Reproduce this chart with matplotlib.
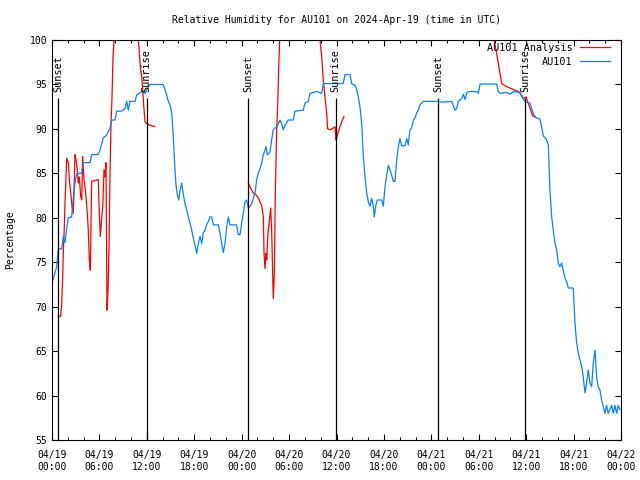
"""
Relative humidity for AU101 (observed vs analysis), with sunrise/sunset marks
"""
import numpy as np
import matplotlib
matplotlib.use("Agg")
import matplotlib.pyplot as plt

# time is hours since 2024-04-19 00:00 UTC
obs_hours = [0.13, 0.59, 0.80, 1.23, 1.43, 1.64, 1.86, 2.06, 2.49, 2.62, 2.91, 3.13, 3.76, 3.96,
             4.81, 5.02, 5.86, 6.07, 6.49, 6.92, 7.34, 7.55, 7.97, 8.19, 8.82, 9.24, 9.45, 9.65,
             9.87, 10.50, 10.72, 11.35, 11.77, 12.19, 12.40, 14.08, 14.30, 14.51, 14.72, 14.93,
             15.15, 15.35, 15.56, 15.69, 15.85, 16.03, 16.20, 16.41, 16.61, 16.83, 17.04, 17.25,
             17.46, 17.68, 17.88, 18.09, 18.31, 18.51, 18.73, 18.94, 19.14, 19.36, 19.57, 19.78,
             19.99, 20.21, 20.41, 21.04, 21.26, 21.47, 21.68, 21.89, 22.11, 22.31, 22.52, 23.37,
             23.57, 23.79, 24.00, 24.21, 24.42, 24.64, 24.84, 25.05, 25.27, 25.47, 25.69, 25.90,
             26.10, 26.53, 26.74, 26.95, 27.08, 27.24, 27.58, 27.80, 27.99, 28.22, 28.43, 28.64,
             28.85, 29.06, 29.27, 29.48, 29.90, 30.53, 30.75, 31.80, 32.01, 32.43, 32.64, 33.49,
             34.13, 34.33, 36.86, 37.07, 37.71, 37.92, 38.34, 38.56, 38.76, 38.97, 39.19, 39.39,
             39.61, 39.82, 40.02, 40.24, 40.45, 40.65, 40.78, 40.96, 41.16, 41.72, 41.92, 42.14,
             42.35, 42.55, 42.77, 42.98, 43.19, 43.40, 43.62, 43.82, 44.03, 44.25, 44.67, 44.88,
             45.08, 45.30, 45.51, 45.72, 45.93, 46.14, 46.35, 46.56, 46.98, 48.88, 49.31, 50.58,
             51.00, 51.21, 51.42, 51.84, 52.05, 52.27, 52.48, 52.68, 53.74, 53.95, 54.16, 56.27,
             56.47, 56.69, 57.53, 57.95, 58.37, 59.22, 59.43, 59.85, 60.07, 60.48, 60.70, 60.90,
             61.12, 61.75, 61.96, 62.17, 62.51, 62.80, 63.01, 63.23, 63.43, 63.65, 63.86, 64.06,
             64.28, 64.49, 64.69, 64.91, 65.13, 65.33, 65.96, 66.18, 66.39, 66.59, 66.81, 67.02,
             67.22, 67.44, 67.65, 67.85, 68.07, 68.29, 68.49, 68.71, 68.92, 69.12, 69.34, 69.55,
             69.75, 69.97, 70.18, 70.38, 70.82, 71.02, 71.23, 71.45, 71.65, 71.87]
obs_rh = [73.0, 74.5, 76.5, 76.5, 77.9, 77.2, 78.8, 80.0, 80.1, 81.6, 83.9, 85.0, 85.0, 86.2,
          86.2, 87.1, 87.1, 87.6, 89.0, 89.3, 90.1, 91.0, 91.0, 92.0, 92.0, 92.3, 93.1, 92.1,
          93.1, 93.1, 93.8, 94.2, 94.0, 94.7, 95.0, 95.0, 94.4, 93.8, 93.1, 92.7,
          91.8, 89.1, 85.4, 83.7, 82.6, 82.0, 83.1, 83.9, 82.6, 81.6, 80.9, 80.1,
          79.4, 78.6, 77.7, 76.9, 76.0, 77.1, 77.9, 77.1, 78.3, 78.6, 79.2, 79.6,
          80.1, 80.1, 79.2, 79.2, 78.3, 77.1, 76.1, 77.1, 79.0, 80.1, 79.2, 79.2,
          78.1, 78.1, 79.4, 80.5, 81.8, 82.0, 81.1, 81.3, 81.6, 82.2, 82.8, 84.3,
          85.0, 86.1, 87.1, 87.6, 88.0, 87.1, 87.4, 88.8, 89.9, 90.1, 90.2, 90.6,
          91.0, 90.6, 89.9, 90.4, 91.0, 91.0, 92.0, 92.1, 92.9, 93.1, 94.0, 94.2,
          94.0, 95.1, 95.1, 96.1, 96.1, 95.1, 94.9, 94.4, 93.6, 92.5, 90.6, 86.9,
          84.6, 82.8, 81.8, 81.3, 82.2, 81.3, 80.1, 81.3, 82.0, 82.0, 81.3, 83.5,
          84.8, 85.9, 85.4, 84.8, 84.1, 84.1, 86.5, 88.0, 88.9, 88.1, 88.1, 88.9,
          88.2, 89.9, 90.1, 91.0, 91.2, 91.8, 92.1, 92.7, 93.1, 93.1, 93.0, 93.1,
          92.1, 92.3, 93.1, 93.4, 93.9, 93.3, 94.0, 94.2, 94.2, 94.0, 95.05, 95.05,
          94.2, 94.0, 94.1, 93.9, 94.2, 94.1, 93.6, 93.1, 93.0, 92.9, 92.3, 91.8,
          91.3, 91.1, 90.2, 89.2, 88.9, 88.2, 83.1, 80.1, 78.6, 77.1, 76.4, 74.9,
          74.5, 74.9, 74.1, 73.2, 72.8, 72.1, 72.1, 68.1, 65.9, 64.8, 64.0, 63.3,
          62.1, 60.3, 61.4, 62.9, 61.4, 61.0, 63.6, 65.1, 62.0, 61.0, 60.6, 59.5,
          58.8, 58.0, 58.9, 58.0, 58.9, 58.0, 58.9, 58.0, 58.9, 58.4]

# analysis runs, NaN separates the three runs
ana_hours = [0.80, 1.10, 1.23, 1.35, 1.43, 1.56, 1.64, 1.77, 1.86, 2.06, 2.19, 2.37, 2.53, 2.70,
             2.78, 2.91, 3.04, 3.20, 3.33, 3.45, 3.63, 3.76, 3.88, 4.05, 4.18, 4.30, 4.47, 4.59,
             4.72, 4.85, 4.93, 5.02, 5.86, 5.99, 6.11, 6.24, 6.42, 6.58, 6.71, 6.83, 6.96, 7.09,
             7.21, 7.34, 7.47, 7.59, 7.72, 7.85, 9.5, 10.3, 10.92, 11.05, 11.22, 11.35, 11.48,
             11.60, 11.77, 11.98, 12.40, 13.03,
             np.nan,
             24.84, 25.05, 25.27, 25.47, 25.81, 26.10, 26.32, 26.53, 26.74, 26.83, 26.95, 27.08,
             27.17, 27.33, 27.50, 27.67, 27.80, 27.93, 28.00, 28.13, 28.26, 28.43, 28.56, 28.69,
             28.81, 31.5, 33.91, 34.13, 34.33, 34.54, 34.76, 34.88, 35.18, 35.59, 35.81, 35.94,
             36.06, 36.23, 36.44, 36.66, 36.95,
             np.nan,
             55.2, 55.93, 56.18, 56.47, 56.69, 56.90, 57.53, 58.37, 59.00, 59.43, 59.63, 59.97,
             60.26, 60.57, 60.82, 61.12]
ana_rh = [68.9, 68.9, 70.4, 73.4, 76.0, 79.0, 81.6, 84.5, 86.7, 86.2, 84.3, 82.8, 81.3, 80.5,
          82.8, 87.1, 86.5, 85.4, 83.9, 84.6, 82.4, 82.0, 86.9, 84.3, 83.5, 82.4, 80.5, 78.6,
          75.3, 74.1, 79.0, 84.1, 84.3, 80.5, 77.9, 79.4, 81.3, 85.4, 84.6, 86.2, 69.6, 71.9,
          76.4, 85.0, 90.6, 93.4, 98.1, 100.0, 106.0, 106.0, 100.0, 98.5, 96.6, 95.9, 94.4,
          92.7, 90.8, 90.6, 90.4, 90.25,
          np.nan,
          83.9, 83.5, 83.1, 82.8, 82.6, 82.2, 81.8, 81.4, 80.1, 76.0, 74.3, 76.0,
          75.25, 78.3, 79.6, 81.1, 78.4, 73.4, 70.9, 73.6, 82.9, 89.9, 92.7, 97.0,
          100.0, 107.0, 100.0, 98.1, 95.5, 93.6, 91.75, 90.0, 89.9, 90.1, 90.25, 88.75,
          89.1, 89.7, 90.25, 90.8, 91.4,
          np.nan,
          101.5, 100.0, 98.9, 97.4, 96.25, 95.1, 94.75, 94.45, 94.2, 93.8, 93.4, 93.6,
          92.9, 92.1, 91.45, 91.4]

sun_hours = [0.80, 11.98, 24.84, 35.90, 48.87, 59.88]
sun_names = ["Sunset", "Sunrise", "Sunset", "Sunrise", "Sunset", "Sunrise"]

tick_hours = list(range(0, 73, 6))
tick_labels = ["04/19\n00:00", "04/19\n06:00", "04/19\n12:00", "04/19\n18:00",
               "04/20\n00:00", "04/20\n06:00", "04/20\n12:00", "04/20\n18:00",
               "04/21\n00:00", "04/21\n06:00", "04/21\n12:00", "04/21\n18:00",
               "04/22\n00:00"]

plt.rcParams["font.family"] = ["DejaVu Sans Mono"]
plt.rcParams["font.size"] = 7

fig = plt.figure(figsize=(6.4, 4.8), dpi=100)
ax = fig.add_axes([52 / 640, 40 / 480, 569 / 640, 400 / 480])

ax.plot(ana_hours, ana_rh, color="#ff0000", lw=0.9, label="AU101 Analysis")
ax.plot(obs_hours, obs_rh, color="#0a80ff", lw=0.9, label="AU101")

# sunrise / sunset markers
for h, name in zip(sun_hours, sun_names):
    ax.vlines(h, 55, 93.5, color="black", lw=0.9)
    ax.text(h, 94.1, name, rotation=90, ha="center", va="bottom", fontsize=7.3)

ax.set_xlim(0, 72)
ax.set_ylim(55, 100)
ax.set_xticks(tick_hours)
ax.set_xticklabels(tick_labels, linespacing=1.3)
ax.set_xticks(range(0, 73, 2), minor=True)
ax.set_yticks(range(55, 101, 5))
ax.tick_params(which="both", direction="in", top=True, right=True, width=0.8)
ax.tick_params(which="major", length=4.5, labelsize=7)
ax.tick_params(which="minor", length=2.5)
ax.tick_params(axis="x", pad=7)
for s in ax.spines.values():
    s.set_linewidth(0.8)

ax.set_ylabel("Percentage", fontsize=7)
ax.yaxis.set_label_coords(-0.065, 0.5)
ax.set_title("Relative Humidity for AU101 on 2024-Apr-19 (time in UTC)", fontsize=7, pad=12)

ax.legend(loc="upper right", bbox_to_anchor=(0.986, 1.0), frameon=False,
          markerfirst=False, fontsize=7.3, handlelength=3.0, borderaxespad=0.0,
          borderpad=0.3, labelspacing=0.35, handletextpad=0.7)

fig.savefig("out.png", dpi=100)
